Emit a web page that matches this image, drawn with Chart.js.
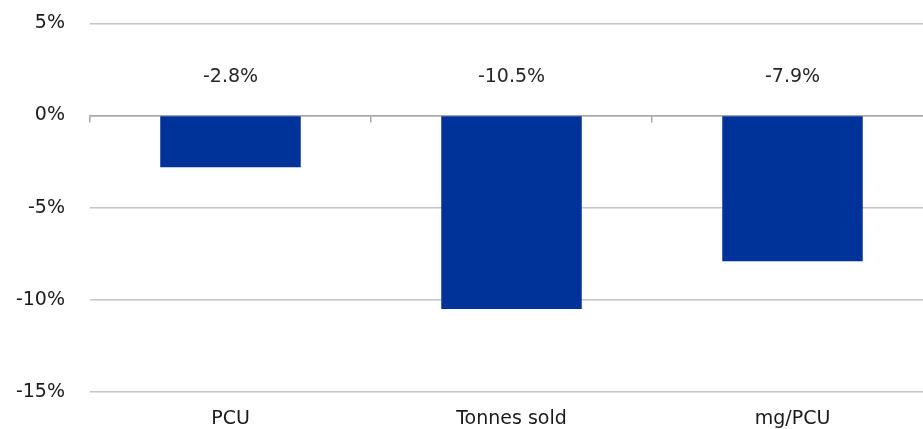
<!DOCTYPE html>
<html>
<head>
<meta charset="utf-8">
<script src="https://cdn.jsdelivr.net/npm/chart.js@4/dist/chart.umd.min.js"></script>
<style>
  html, body { margin: 0; padding: 0; overflow: hidden; background: #fff; }
  #wrap { width: 933px; height: 442px; margin-top: -13px; }
</style>
</head>
<body>
<div id="wrap"><canvas id="myChart"></canvas></div>
<script>
const categories = ['PCU', 'Tonnes sold', 'mg/PCU'];
const changes = [-2.8, -10.5, -7.9];
const yTicks = [-15, -10, -5, 0, 5];

const FONT = "'DejaVu Sans', Verdana, sans-serif";

// value labels sit in a row above the zero line
const valueLabels = {
    id: 'valueLabels',
    afterDatasetsDraw(chart) {
        const c = chart.ctx;
        const meta = chart.getDatasetMeta(0);
        const yPos = chart.scales.y.getPixelForValue(2.1);
        c.save();
        c.font = '19px ' + FONT;
        c.fillStyle = '#262626';
        c.textAlign = 'center';
        c.textBaseline = 'middle';
        meta.data.forEach((bar, i) => {
            c.fillText(changes[i].toFixed(1) + '%', bar.x, yPos);
        });
        c.restore();
    }
};

const ctx = document.getElementById('myChart');

let myChart = new Chart(ctx, {
    type: 'bar',
    data: {
        labels: categories,
        datasets: [{
            data: changes,
            backgroundColor: '#003399',
            borderWidth: 0,
            categoryPercentage: 1,
            barPercentage: 0.5,
            xAxisID: 'x'
        }]
    },
    options: {
        responsive: true,
        maintainAspectRatio: false,
        animation: false,
        layout: { padding: { top: 10, left: 0, right: 0, bottom: 0 } },
        plugins: {
            legend: { display: false },
            tooltip: { enabled: false }
        },
        scales: {
            x: {
                type: 'category',
                position: { y: 0 },
                offset: true,
                grid: {
                    offset: true,
                    drawOnChartArea: false,
                    tickLength: 6,
                    color: '#a6a6a6',
                    lineWidth: 1.5
                },
                border: { display: true, color: '#a6a6a6', width: 1.5 },
                ticks: { display: false }
            },
            x2: {
                type: 'category',
                position: 'bottom',
                offset: true,
                grid: { display: false },
                border: { display: false },
                ticks: {
                    padding: 8,
                    color: '#1a1a1a',
                    font: { family: FONT, size: 19 }
                },
                afterFit: (s) => { s.height = 37; }
            },
            y: {
                min: -15,
                max: 5,
                afterBuildTicks: (s) => { s.ticks = yTicks.map(v => ({ value: v })); },
                grid: {
                    color: '#c4c4c4',
                    lineWidth: 1.5,
                    drawTicks: false
                },
                border: { display: false },
                ticks: {
                    padding: 25,
                    color: '#1a1a1a',
                    font: { family: FONT, size: 19 },
                    callback: (v) => v + '%'
                },
                afterFit: (s) => { s.width = 90; }
            }
        }
    },
    plugins: [valueLabels]
});
</script>
</body>
</html>
